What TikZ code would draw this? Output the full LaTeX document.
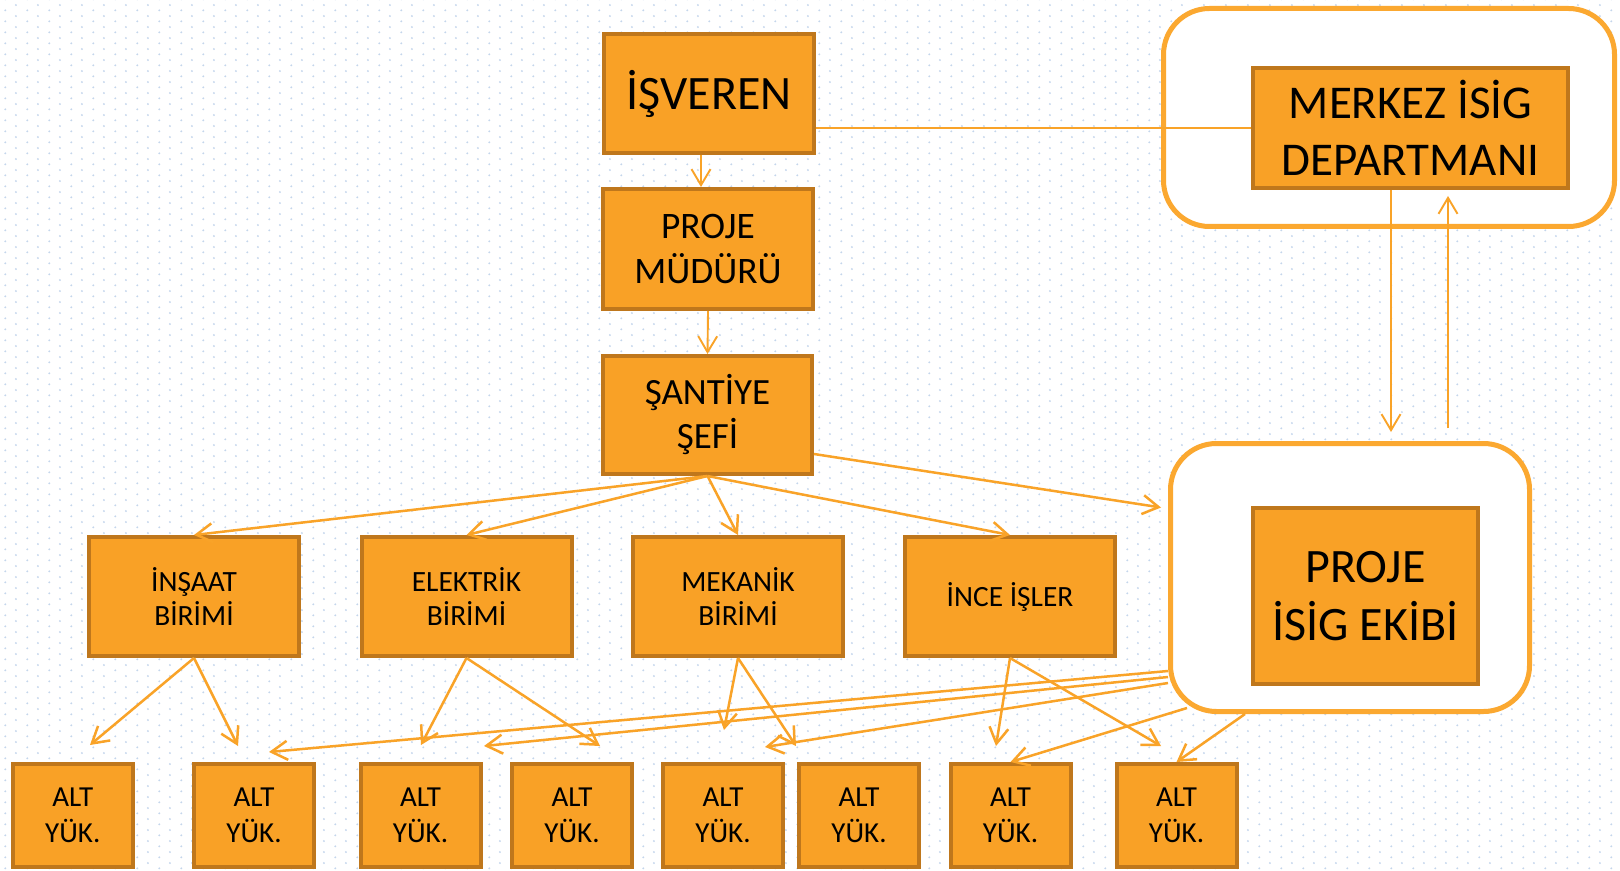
\documentclass[tikz,border=0pt]{standalone}
\usepackage{fontspec}
\setmainfont{Carlito}
\usetikzlibrary{arrows.meta,patterns}
\definecolor{boxfill}{RGB}{249,161,38}
\definecolor{boxline}{RGB}{191,119,28}
\definecolor{arrcol}{RGB}{249,163,40}
\definecolor{outcol}{RGB}{251,168,48}
\definecolor{dotcol}{RGB}{196,214,236}
\pgfdeclarepatternformonly{bgdots}{\pgfpointorigin}{\pgfpoint{10.8pt}{5.4pt}}{\pgfpoint{10.8pt}{5.4pt}}{%
  \pgfpathcircle{\pgfpoint{2.7pt}{1.35pt}}{0.55pt}%
  \pgfpathcircle{\pgfpoint{8.1pt}{4.05pt}}{0.55pt}%
  \pgfusepath{fill}}
\newcommand{\myfs}[2]{\fontsize{#1}{#2}\selectfont}
\begin{document}
\begin{tikzpicture}[x=0.5pt,y=-0.5pt,
  ubox/.style={draw=boxline, fill=boxfill, line width=2pt, inner sep=0pt, align=center, text=black},
  topbox/.style={ubox, minimum width=105pt, minimum height=59.5pt},
  midbox/.style={ubox, minimum width=105pt, minimum height=59.5pt, font=\myfs{14.7}{16.8}},
  altbox/.style={ubox, minimum width=60pt, minimum height=51.5pt, font=\myfs{14.5}{18}},
  outbox/.style={draw=outcol, fill=white, line width=2.5pt, rounded corners=23pt, inner sep=0pt},
  arr/.style={draw=arrcol, line width=1.25pt, -{Straight Barb[length=8pt,width=9.5pt]}},
  thinarr/.style={draw=arrcol, line width=0.95pt, -{Straight Barb[length=8pt,width=9.5pt]}},
  plainline/.style={draw=arrcol, line width=0.95pt}]
\useasboundingbox (0,0) rectangle (1620,871);
\fill[white] (0,0) rectangle (1620,871);
\fill[pattern=bgdots, pattern color=dotcol] (0,0) rectangle (1620,871);

% outer rounded frames
\node[outbox, minimum width=225.5pt, minimum height=109pt] (mouter) at (1389,117.5) {};
\node[outbox, minimum width=179.5pt, minimum height=134pt] (pouter) at (1350,577.5) {};

% top column
\node[topbox, font=\myfs{24}{28}] (isveren) at (709,93.5) {İŞVEREN};
\node[topbox, minimum height=60pt, font=\myfs{18.7}{22.5}] (projemud) at (708,249) {PROJE\\MÜDÜRÜ};
\node[topbox, minimum width=104.5pt, minimum height=59pt, font=\myfs{18.5}{22}] (santiye) at (707.5,415) {ŞANTİYE\\ŞEFİ};
\node[ubox, minimum width=157.5pt, minimum height=60pt, font=\myfs{23.5}{28.4}] (merkez) at (1410.5,128) {MERKEZ İSİG\\DEPARTMANI};
\node[ubox, minimum width=112.5pt, minimum height=88pt, font=\myfs{24}{29}] (pisig) at (1365.5,596) {PROJE\\İSİG EKİBİ};

% middle row
\node[midbox] (insaat) at (194,596.5) {İNŞAAT\\BİRİMİ};
\node[midbox] (elektrik) at (466.5,596.5) {ELEKTRİK\\BİRİMİ};
\node[midbox] (mekanik) at (738,596.5) {MEKANİK\\BİRİMİ};
\node[midbox] (ince) at (1010,596.5) {İNCE İŞLER};

% bottom row
\foreach \x [count=\i] in {72.75,254,420.5,572,723,859,1010.5,1176.5}
  \node[altbox] (alt\i) at (\x,815.5) {ALT\\YÜK.};

% free arrow ends
\coordinate (a1) at (90,745);
\coordinate (a2) at (238,746);
\coordinate (b1) at (421,745);
\coordinate (b2) at (600,746);
\coordinate (c1) at (724,730);
\coordinate (c2) at (796,746);
\coordinate (d1) at (996,746);
\coordinate (d2) at (1161,746);
\coordinate (p1) at (269,752);
\coordinate (p2) at (484,746);
\coordinate (p3) at (765,747);
\coordinate (dnx) at (1391,0);
\coordinate (upx) at (1448,0);

% connectors
\draw[thinarr] ([xshift=-4pt]isveren.south) -- ([xshift=-3.5pt]projemud.north);
\draw[thinarr] (projemud.south) -- (santiye.north);
\draw[plainline] (merkez.west -| isveren.east) -- (merkez.west);
\draw[thinarr, shorten >=4.5pt] (merkez.south -| dnx) -- (pouter.north -| dnx);
\draw[thinarr, shorten <=6.5pt, shorten >=3pt] (pouter.north -| upx) -- (merkez.south -| upx);

\foreach \n in {insaat,elektrik,mekanik,ince}
  \draw[arr] (santiye.south) -- (\n.north);
\draw[arr] ([yshift=-19.5pt]santiye.east) -- ([xshift=-3.5pt,yshift=35pt]pouter.west);

\draw[arr] (insaat.south) -- (a1);
\draw[arr] (insaat.south) -- (a2);
\draw[arr] (elektrik.south) -- (b1);
\draw[arr] (elektrik.south) -- (b2);
\draw[arr] (mekanik.south) -- (c1);
\draw[arr] (mekanik.south) -- (c2);
\draw[arr] (ince.south) -- (d1);
\draw[arr] (ince.south) -- (d2);

\draw[arr] ([yshift=-46.75pt]pouter.west) -- (p1);
\draw[arr] ([yshift=-49.75pt]pouter.west) -- (p2);
\draw[arr] ([yshift=-52.75pt]pouter.west) -- (p3);
\draw[arr] ([xshift=9.5pt,yshift=3pt]pouter.south west) -- (alt7.north);
\draw[arr] ([xshift=-52.5pt]pouter.south) -- (alt8.north);
\end{tikzpicture}
\end{document}
